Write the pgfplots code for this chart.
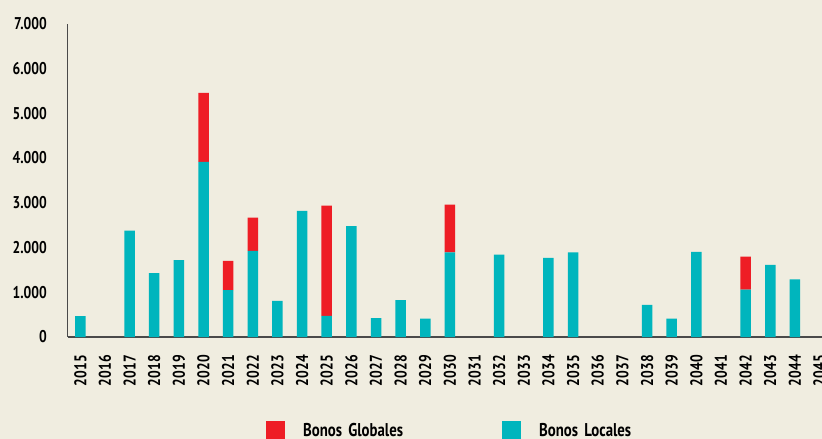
\documentclass[border=0pt]{standalone}
\usepackage{fontspec}
\setmainfont{PT Sans}[FakeStretch=0.8]
\usepackage{pgfplots}
\usepackage{pgfplotstable}
\pgfplotsset{compat=1.18}
\definecolor{bg}{HTML}{F0EDE0}
\definecolor{locales}{HTML}{00B5BD}
\definecolor{rojo}{HTML}{EE1D25}
\definecolor{axisgray}{HTML}{4A4A4A}
\pgfplotstableread{
idx loc glob
0 465 0
1 0 0
2 2378 0
3 1425 0
4 1715 0
5 3910 1540
6 1045 655
7 1924 744
8 808 0
9 2818 0
10 473 2463
11 2474 0
12 420 0
13 826 0
14 409 0
15 1891 1063
16 0 0
17 1838 0
18 0 0
19 1764 0
20 1891 0
21 0 0
22 0 0
23 719 0
24 413 0
25 1902 0
26 0 0
27 1060 737
28 1612 0
29 1284 0
30 0 0
}\datatable
\begin{document}
\begin{tikzpicture}[x=1pt,y=1pt]
\fill[bg] (-68,-102) rectangle (754,337);
\begin{axis}[
  at={(0,0)}, anchor=south west, scale only axis,
  width=754pt, height=313.5pt,
  xmin=-0.5, xmax=30.1, ymin=0, ymax=7000,
  ybar stacked, bar width=10.5pt,
  axis x line*=bottom, axis y line*=left,
  x axis line style={draw=axisgray, line width=1.6pt, -},
  y axis line style={draw=axisgray, line width=1pt, -},
  major tick length=0pt,
  xtick={0,...,30},
  xticklabels={2015,2016,2017,2018,2019,2020,2021,2022,2023,2024,2025,2026,2027,2028,2029,2030,2031,2032,2033,2034,2035,2036,2037,2038,2039,2040,2041,2042,2043,2044,2045},
  ytick={0,1000,...,7000},
  scaled y ticks=false,
  /pgf/number format/.cd, 1000 sep={.}, assume math mode=true,
  /pgfplots/.cd,
  tick label style={font=\fontsize{17}{20}\selectfont\bfseries, text=black},
  x tick label style={rotate=90, anchor=east, inner sep=0pt},
  y tick label style={anchor=east, inner sep=0pt},
  xticklabel shift=18pt,
  yticklabel shift=21pt,
  legend image code/.code={\fill[#1] (0pt,-9.5pt) rectangle (19pt,9.5pt);},
  reverse legend,
  legend cell align=left,
  legend style={at={(0.2626,-0.2998)}, anchor=west, draw=none, fill=none,
    inner sep=0pt, legend columns=2,
    font=\fontsize{18.5}{22}\selectfont\bfseries,
    /tikz/every odd column/.append style={column sep=18pt},
    /tikz/every even column/.append style={column sep=0pt},
    nodes={inner sep=0pt, text width=199pt, align=left}},
]
\addplot[fill=locales, draw=none] table[x=idx, y=loc] {\datatable};
\addlegendentry{Bonos Locales}
\addplot[fill=rojo, draw=none] table[x=idx, y=glob] {\datatable};
\addlegendentry{Bonos Globales}
\end{axis}
\pgfresetboundingbox
\path[use as bounding box] (-68,-102) rectangle (754,337);
\end{tikzpicture}
\end{document}
